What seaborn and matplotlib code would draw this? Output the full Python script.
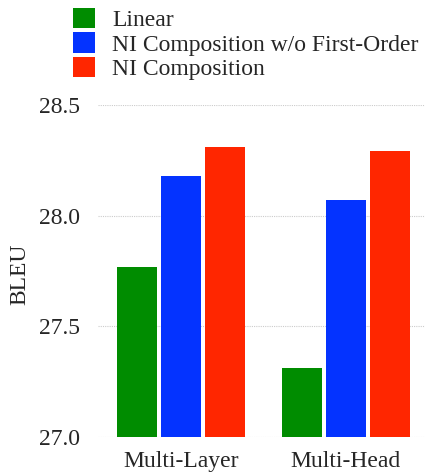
import matplotlib
matplotlib.use("Agg")
import matplotlib.pyplot as plt
import seaborn as sns
import pandas as pd
from matplotlib.patches import Patch

groups = ["Multi-Layer", "Multi-Head"]
series = ["Linear", "NI Composition w/o First-Order", "NI Composition"]
linear = [27.77, 27.31]
ni_wo_first = [28.18, 28.07]
ni_comp = [28.31, 28.29]
colors = ["#008C00", "#0433FF", "#FF2600"]
yticks = [27.0, 27.5, 28.0, 28.5]

rows = []
for s, vals in zip(series, [linear, ni_wo_first, ni_comp]):
    for g, v in zip(groups, vals):
        rows.append({"group": g, "series": s, "BLEU": v})
df = pd.DataFrame(rows)

sns.set_theme(style="white")
FAM = ["Liberation Serif", "DejaVu Serif"]
plt.rcParams["font.family"] = FAM
FS = 17

fig = plt.figure(figsize=(4.27, 4.72), dpi=100)
ax = fig.add_axes([98 / 427, 1 - 437 / 472, 327 / 427, (437 - 105) / 472])

sns.barplot(data=df, x="group", y="BLEU", hue="series", order=groups,
            hue_order=series, palette=colors, width=0.8, gap=0.08,
            saturation=1, legend=False, ax=ax, linewidth=0)

ax.set_ylim(27.0, 28.5)
ax.set_xlim(-0.503, 0.479 + 1)
ax.set_yticks(yticks)
ax.set_yticklabels([f"{t:.1f}" for t in yticks], fontsize=FS, family=FAM)
ax.set_xticks(range(len(groups)))
ax.set_xticklabels(groups, fontsize=FS, family=FAM)
ax.tick_params(axis="x", length=0, pad=10)
ax.tick_params(axis="y", length=0, pad=13)
ax.set_xlabel("")
ax.set_ylabel("BLEU", fontsize=FS, family=FAM, va="center")
ax.yaxis.set_label_coords((20 - 98) / 327, (437 - 274) / 332)
for sp in ax.spines.values():
    sp.set_visible(False)
ax.yaxis.grid(True, color="#cccccc", linestyle=(0, (1, 1)), linewidth=0.8)
ax.set_axisbelow(True)

handles = [Patch(facecolor=c, edgecolor="none", label=s) for c, s in zip(colors, series)]
fig.legend(handles=handles, loc="upper left", bbox_to_anchor=(73 / 427, 1 - 8 / 472),
           frameon=False, prop={"family": FAM, "size": FS}, handlelength=0.95,
           handleheight=0.95, handletextpad=0.72, labelspacing=0.05, borderpad=0,
           borderaxespad=0)

fig.savefig("out.png", dpi=100)
